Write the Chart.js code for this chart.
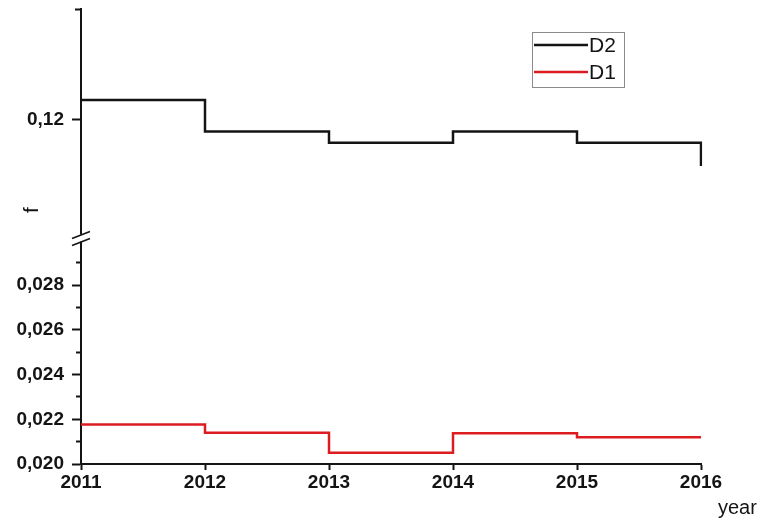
<!DOCTYPE html>
<html>
<head>
<meta charset="utf-8">
<script src="https://cdn.jsdelivr.net/npm/chart.js@4/dist/chart.umd.min.js"></script>
<style>
  html, body { margin: 0; padding: 0; background: #fff; }
  #c { display: block; }
</style>
</head>
<body>
<canvas id="c" width="783" height="519"></canvas>
<script>
// Years on the horizontal axis
const years = ['2011', '2012', '2013', '2014', '2015', '2016'];

// Yearly values of f for each series (step held until the next year)
const d2Values = [0.1236, 0.1179, 0.1159, 0.1179, 0.1159, 0.1117];
const d1Values = [0.02177, 0.02140, 0.02050, 0.02138, 0.02120, 0.02120];

// Ticks of the upper (broken) segment of the f axis
const topTickValues = [0.12, 0.14];
const topTickLabels = ['0,12', ''];

// Ticks of the lower segment of the f axis
const lowTickValues = [0.020, 0.021, 0.022, 0.023, 0.024, 0.025, 0.026, 0.027, 0.028, 0.029];
const lowTickLabels = ['0,020', '', '0,022', '', '0,024', '', '0,026', '', '0,028', ''];

const FONT = "'Liberation Sans', Arial, sans-serif";
const INK = '#141414';
const RED = '#dd1c22';

// Axis break marks, axis titles and the boxed legend
const decorations = {
  id: 'decorations',
  afterDraw(chart) {
    const ctx = chart.ctx;
    const area = chart.chartArea;
    const yTop = chart.scales.yTop;
    const ax = area.left;
    const breakY = yTop.bottom;

    ctx.save();
    // gap in the f axis between the two segments
    ctx.fillStyle = '#fff';
    ctx.fillRect(ax - 3, breakY - 3.5, 6, 7);
    // double slash
    ctx.strokeStyle = INK;
    ctx.lineWidth = 1.6;
    ctx.beginPath();
    ctx.moveTo(ax - 9, breakY + 0.5);
    ctx.lineTo(ax + 9, breakY - 6.5);
    ctx.moveTo(ax - 9, breakY + 7.5);
    ctx.lineTo(ax + 9, breakY + 0.5);
    ctx.stroke();

    // axis titles
    ctx.fillStyle = INK;
    ctx.font = '20px ' + FONT;
    ctx.textAlign = 'left';
    ctx.textBaseline = 'alphabetic';
    ctx.fillText('year', 718, 514);

    ctx.save();
    ctx.translate(38, 210);
    ctx.rotate(-Math.PI / 2);
    ctx.textAlign = 'center';
    ctx.font = '21px ' + FONT;
    ctx.fillText('f', 0, 0);
    ctx.restore();

    // legend box
    ctx.strokeStyle = '#8a8a8a';
    ctx.lineWidth = 1;
    ctx.strokeRect(532.5, 32.5, 92, 55);
    ctx.font = '21px ' + FONT;
    ctx.textBaseline = 'middle';
    const rows = [{ i: 0, y: 45 }, { i: 1, y: 72 }];
    rows.forEach(r => {
      const ds = chart.data.datasets[r.i];
      ctx.strokeStyle = ds.borderColor;
      ctx.lineWidth = 2.5;
      ctx.beginPath();
      ctx.moveTo(534, r.y);
      ctx.lineTo(588, r.y);
      ctx.stroke();
      ctx.fillStyle = INK;
      ctx.fillText(ds.label, 589, r.y + 1);
    });
    ctx.restore();
  }
};

const tickFont = { family: FONT, size: 19, weight: 'bold' };

// y segments keep a fixed width and no extra room for edge labels
function fitLeftAxis(s) {
  s.width = 81;
  s.paddingTop = 0;
  s.paddingBottom = 0;
}

new Chart(document.getElementById('c'), {
  type: 'line',
  data: {
    labels: years,
    datasets: [
      {
        label: 'D2',
        data: d2Values,
        yAxisID: 'yTop',
        borderColor: INK,
        borderWidth: 2.5,
        stepped: true,
        pointRadius: 0,
        fill: false
      },
      {
        label: 'D1',
        data: d1Values,
        yAxisID: 'yLow',
        borderColor: RED,
        borderWidth: 2.5,
        stepped: true,
        pointRadius: 0,
        fill: false
      }
    ]
  },
  options: {
    responsive: false,
    animation: false,
    devicePixelRatio: 1,
    layout: { padding: { left: 0, top: 9, right: 82, bottom: 0 } },
    plugins: {
      legend: { display: false },
      tooltip: { enabled: false }
    },
    scales: {
      x: {
        type: 'category',
        offset: false,
        grid: { drawOnChartArea: false, tickLength: 6, tickWidth: 2, tickColor: INK },
        border: { color: INK, width: 2 },
        ticks: { color: INK, font: tickFont, padding: 1, maxRotation: 0, autoSkip: false },
        afterFit(s) { s.height = 55; }
      },
      yLow: {
        type: 'linear',
        position: 'left',
        stack: 'f',
        stackWeight: 225.5,
        min: 0.020,
        max: 0.0301,
        afterBuildTicks(s) { s.ticks = lowTickValues.map(v => ({ value: v })); },
        ticks: {
          autoSkip: false,
          color: INK,
          font: tickFont,
          padding: 8,
          callback: (v, i) => lowTickLabels[i]
        },
        grid: {
          drawOnChartArea: false,
          tickLength: 9,
          tickWidth: 2,
          tickColor: INK,
          tickBorderDash: (c) => (lowTickLabels[c.index] ? [] : [0, 4, 5, 30])
        },
        border: { color: INK, width: 2 },
        afterFit: fitLeftAxis
      },
      yTop: {
        type: 'linear',
        position: 'left',
        stack: 'f',
        stackWeight: 228.7,
        min: 0.0987,
        max: 0.14,
        afterBuildTicks(s) { s.ticks = topTickValues.map(v => ({ value: v })); },
        ticks: {
          autoSkip: false,
          color: INK,
          font: tickFont,
          padding: 8,
          callback: (v, i) => topTickLabels[i]
        },
        grid: {
          drawOnChartArea: false,
          tickLength: 9,
          tickWidth: 2,
          tickColor: INK,
          tickBorderDash: (c) => (topTickLabels[c.index] ? [] : [0, 3, 6, 30])
        },
        border: { color: INK, width: 2 },
        afterFit: fitLeftAxis
      }
    }
  },
  plugins: [decorations]
});
</script>
</body>
</html>
